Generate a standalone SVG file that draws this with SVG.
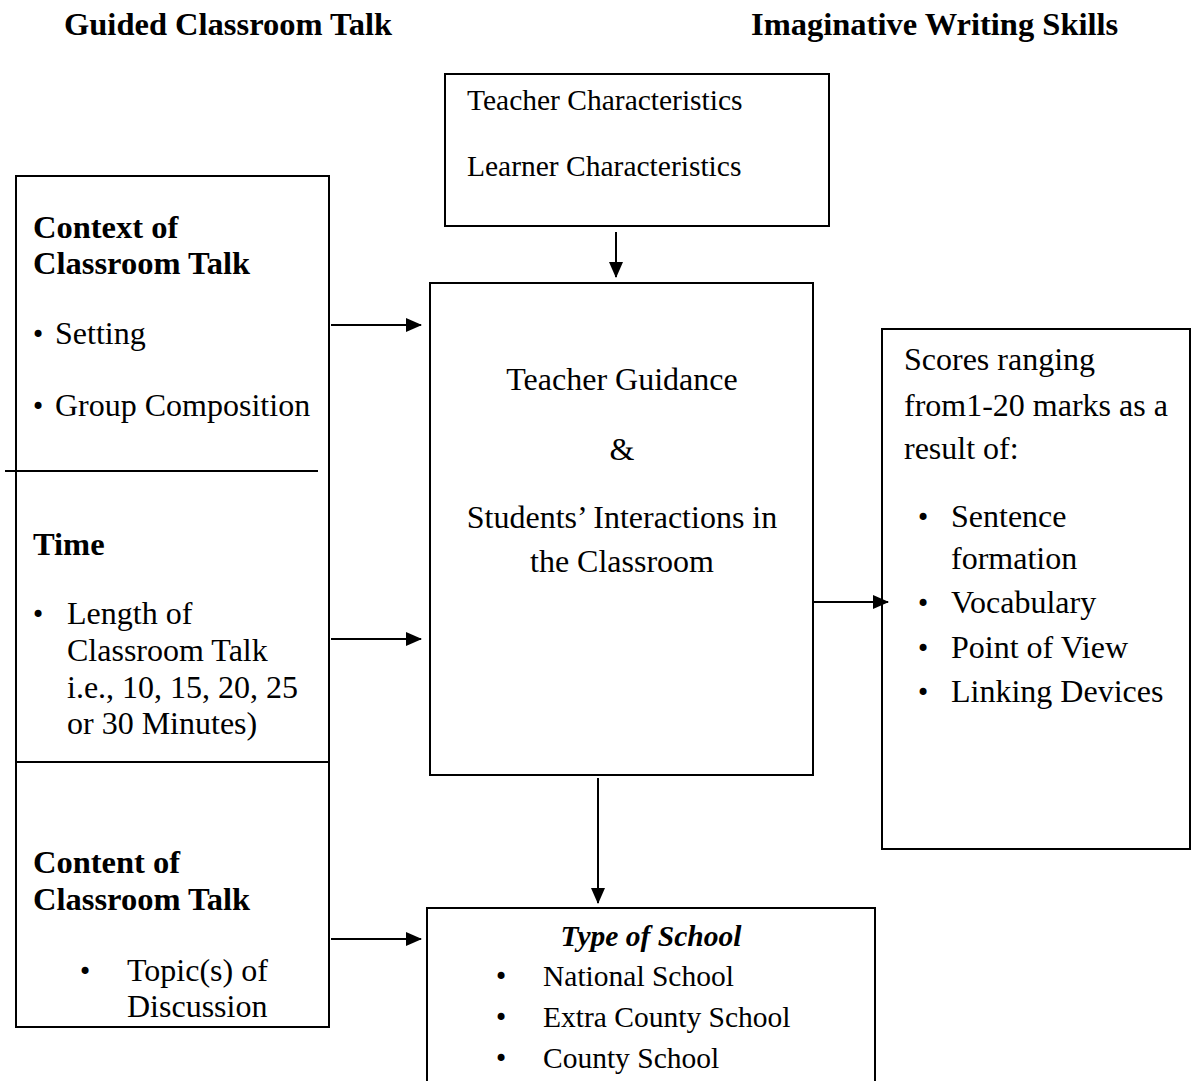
<svg xmlns="http://www.w3.org/2000/svg" width="1192" height="1081" viewBox="0 0 1192 1081">
<style>
text{font-family:"Liberation Serif","Times New Roman",serif;fill:#000}
.t{font-size:32px}
.s{font-size:29.5px}
.b{font-weight:bold;font-size:32.5px}
.bu{font-family:"DejaVu Sans",sans-serif;font-size:24px}
.box{fill:none;stroke:#000;stroke-width:2}
.ln{stroke:#000;stroke-width:2;fill:none}
</style>
<defs>
<marker id="ah" markerWidth="16" markerHeight="14" refX="15" refY="7" orient="auto" markerUnits="userSpaceOnUse">
<path d="M0,0 L16,7 L0,14 Z" fill="#000"/>
</marker>
</defs>
<rect width="1192" height="1081" fill="#fff"/>
<g id="headers">
<text class="b" x="64" y="35">Guided Classroom Talk</text>
<text class="b" x="751" y="35">Imaginative Writing Skills</text>
</g>
<g id="left-box">
<rect class="box" x="16" y="176" width="313" height="851"/>
<line class="ln" x1="5" y1="471" x2="318" y2="471"/>
<line class="ln" x1="16" y1="762" x2="329" y2="762"/>
<text class="b" x="33" y="238">Context of</text>
<text class="b" x="33" y="274">Classroom Talk</text>
<text class="bu" x="31" y="343">•</text>
<text class="t" x="55" y="344">Setting</text>
<text class="bu" x="31" y="415">•</text>
<text class="t" x="55" y="416">Group Composition</text>
<text class="b" x="33" y="555">Time</text>
<text class="bu" x="31" y="623">•</text>
<text class="t" x="67" y="624">Length of</text>
<text class="t" x="67" y="661">Classroom Talk</text>
<text class="t" x="67" y="698">i.e., 10, 15, 20, 25</text>
<text class="t" x="67" y="734">or 30 Minutes)</text>
<text class="b" x="33" y="873">Content of</text>
<text class="b" x="33" y="910">Classroom Talk</text>
<text class="bu" x="78" y="980">•</text>
<text class="t" x="127" y="981">Topic(s) of</text>
<text class="t" x="127" y="1017">Discussion</text>
</g>
<g id="top-box">
<rect class="box" x="445" y="74" width="384" height="152"/>
<text class="s" x="467" y="110">Teacher Characteristics</text>
<text class="s" x="467" y="176">Learner Characteristics</text>
</g>
<g id="center-box">
<rect class="box" x="430" y="283" width="383" height="492"/>
<text class="t" x="622" y="390" text-anchor="middle">Teacher Guidance</text>
<text class="t" x="622" y="460" text-anchor="middle">&amp;</text>
<text class="t" x="622" y="528" text-anchor="middle">Students’ Interactions in</text>
<text class="t" x="622" y="572" text-anchor="middle">the Classroom</text>
</g>
<g id="right-box">
<rect class="box" x="882" y="329" width="308" height="520"/>
<text class="t" x="904" y="370">Scores ranging</text>
<text class="t" x="904" y="416">from1-20 marks as a</text>
<text class="t" x="904" y="459">result of:</text>
<text class="bu" x="916" y="526">•</text>
<text class="t" x="951" y="527">Sentence</text>
<text class="t" x="951" y="569">formation</text>
<text class="bu" x="916" y="612">•</text>
<text class="t" x="951" y="613">Vocabulary</text>
<text class="bu" x="916" y="657">•</text>
<text class="t" x="951" y="658">Point of View</text>
<text class="bu" x="916" y="701">•</text>
<text class="t" x="951" y="702">Linking Devices</text>
</g>
<g id="bottom-box">
<path class="ln" d="M427,1081 V908 H875 V1081"/>
<text class="s b" x="651" y="946" text-anchor="middle" font-style="italic" style="font-size:29.5px">Type of School</text>
<text class="bu" x="494" y="985">•</text>
<text class="s" x="543" y="986">National School</text>
<text class="bu" x="494" y="1026">•</text>
<text class="s" x="543" y="1027">Extra County School</text>
<text class="bu" x="494" y="1067">•</text>
<text class="s" x="543" y="1068">County School</text>
</g>
<g id="connectors">
<line class="ln" x1="616" y1="232" x2="616" y2="277" marker-end="url(#ah)"/>
<line class="ln" x1="331" y1="325" x2="421" y2="325" marker-end="url(#ah)"/>
<line class="ln" x1="331" y1="639" x2="421" y2="639" marker-end="url(#ah)"/>
<line class="ln" x1="331" y1="939" x2="421" y2="939" marker-end="url(#ah)"/>
<line class="ln" x1="813" y1="602" x2="888" y2="602" marker-end="url(#ah)"/>
<line class="ln" x1="598" y1="778" x2="598" y2="903" marker-end="url(#ah)"/>
</g>
</svg>
